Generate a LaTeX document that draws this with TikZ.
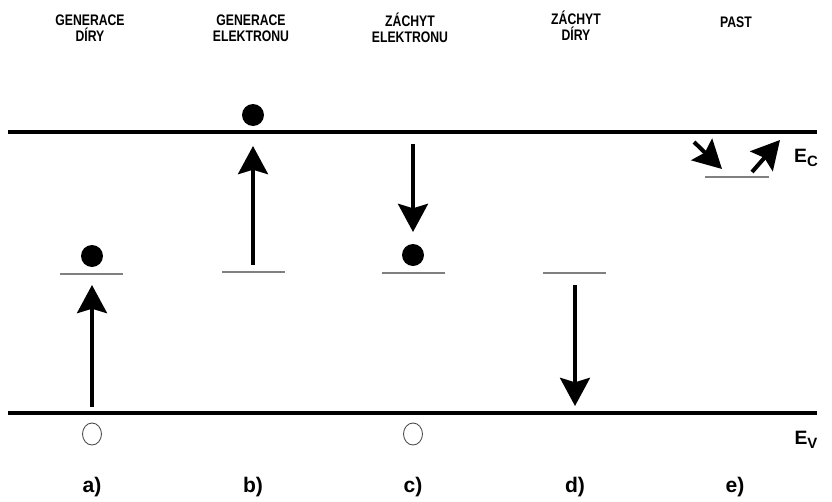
\documentclass[tikz,border=0pt]{standalone}
\usepackage{fontspec}
\setmainfont{Liberation Sans}
\newfontfamily\uzky[FakeStretch=0.8]{Liberation Sans}
\usetikzlibrary{arrows.meta}
\tikzset{
  band/.style={line width=2.4pt},
  level/.style={line width=0.6pt,gray},
  jump/.style={line width=2.3pt,-{Stealth[length=16pt,width=17pt,inset=2.5pt]}},
  elektron/.style={circle,fill=black,inner sep=0pt,minimum size=0.44cm},
  dira/.style={ellipse,draw=black!70,line width=0.5pt,inner sep=0pt,minimum width=0.38cm,minimum height=0.44cm},
  nadpis/.style={font=\uzky\fontsize{8.7}{9}\selectfont\bfseries,align=center},
  pismeno/.style={font=\fontsize{12}{14}\selectfont\bfseries},
  hladina/.style={font=\fontsize{11}{12}\selectfont\bfseries},
}
\usetikzlibrary{shapes.geometric}
\newcommand{\pod}[1]{\raisebox{-0.45ex}{\fontsize{8.5}{9}\selectfont #1}}

\begin{document}
\begin{tikzpicture}[x=0.02cm,y=-0.02cm]
  \useasboundingbox (0,0) rectangle (832,501);
  % pasy
  \coordinate (c1) at (8,132);
  \coordinate (c2) at (817,132);
  \coordinate (v1) at (8,413);
  \coordinate (v2) at (817,413);
  \draw[band] (c1) -- (c2);
  \draw[band] (v1) -- (v2);
  \node[hladina] (Ec) at (806,158) {E\pod{C}};
  \node[hladina] (Ev) at (806,440) {E\pod{V}};
  % nadpisy
  \node[nadpis] (ta) at (90,28) {GENERACE\\DÍRY};
  \node[nadpis] (tb) at (251,28) {GENERACE\\ELEKTRONU};
  \node[nadpis] (tc) at (410,28) {ZÁCHYT\\ELEKTRONU};
  \node[nadpis] (td) at (576,26) {ZÁCHYT\\DÍRY};
  \node[nadpis] (te) at (736,22) {PAST};
  % a)
  \draw[level] (60,274) -- (123,274);
  \node[elektron] (ea) at (92,256) {};
  \node[dira] (ha) at (92,434) {};
  \coordinate (a1) at (92,407);
  \coordinate (a2) at (92,285);
  \draw[jump] (a1) -- (a2);
  % b)
  \draw[level] (222,272) -- (285,272);
  \node[elektron] (eb) at (253,115) {};
  \coordinate (b1) at (253,265);
  \coordinate (b2) at (253,146);
  \draw[jump] (b1) -- (b2);
  % c)
  \draw[level] (382,273) -- (445,273);
  \node[elektron] (ec) at (413,255) {};
  \node[dira] (hc) at (413,434) {};
  \coordinate (c3) at (413,144);
  \coordinate (c4) at (413,232);
  \draw[jump] (c3) -- (c4);
  % d)
  \draw[level] (543,273) -- (606,273);
  \coordinate (d1) at (575,285);
  \coordinate (d2) at (575,406);
  \draw[jump] (d1) -- (d2);
  % e)
  \draw[level] (705,177) -- (769,177);
  \coordinate (e1) at (694,142);
  \coordinate (e2) at (722,169);
  \coordinate (e3) at (752,172);
  \coordinate (e4) at (780,140);
  \draw[jump] (e1) -- (e2);
  \draw[jump] (e3) -- (e4);
  % pismena
  \node[pismeno] (la) at (92,487) {a)};
  \node[pismeno] (lb) at (253,487) {b)};
  \node[pismeno] (lc) at (413,487) {c)};
  \node[pismeno] (ld) at (575,487) {d)};
  \node[pismeno] (le) at (735,487) {e)};
\end{tikzpicture}
\end{document}
